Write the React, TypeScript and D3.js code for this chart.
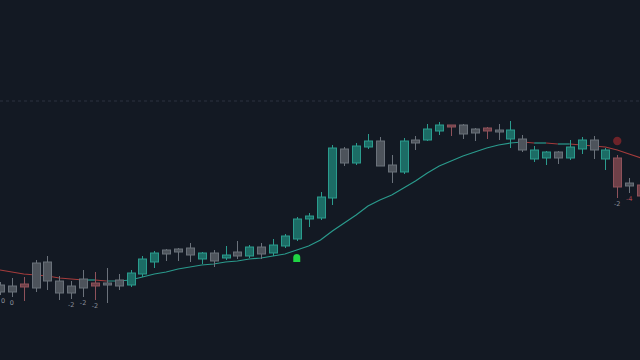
import React from "react";
import * as d3 from "d3";

const opens = [51.5,51.4,51.6,51.2,53.8,51.9,50.7,51.2,51.7,51.5,51.4,51.5,52.6,53.8,55.0,55.1,55.2,54.1,54.7,54.2,54.8,54.4,55.3,54.7,55.4,56.1,58.1,58.2,60.2,65.1,63.7,65.3,65.9,63.5,62.8,65.7,66.0,66.9,67.5,67.5,67.1,67.2,66.8,66.1,66.1,64.1,64.2,64.8,64.2,65.1,66.0,64.1,64.2,61.7,61.5];
const closes = [50.8,50.8,51.3,53.7,51.9,50.7,51.4,52.1,51.4,51.7,52.0,52.7,54.1,54.7,54.6,54.8,54.5,54.7,53.9,54.5,54.4,55.3,54.6,55.5,56.4,58.1,58.4,60.3,65.2,63.7,65.4,65.9,63.4,62.8,65.9,66.0,67.1,67.5,67.3,66.6,66.7,66.9,67.0,67.0,65.0,65.0,64.8,64.2,65.3,66.0,65.0,65.0,61.3,61.4,60.4];
const highs = [51.8,52.2,52.3,54.0,54.4,52.4,51.9,53.0,52.8,53.2,52.6,53.0,54.4,54.9,55.1,55.2,55.7,54.8,55.0,55.4,55.9,55.5,55.7,56.1,56.6,58.3,58.7,60.8,65.5,65.3,65.7,66.6,66.3,64.5,66.2,66.4,67.6,67.8,67.5,67.6,67.2,67.3,67.6,67.9,66.5,65.4,64.9,64.9,66.0,66.3,66.4,65.2,64.5,62.2,61.8];
const lows = [50.5,50.3,49.9,50.8,51.0,50.0,50.1,50.3,50.0,49.7,51.0,51.3,52.3,53.2,53.9,53.9,53.8,53.6,53.3,54.0,54.1,54.2,54.1,54.4,55.2,55.9,57.3,58.0,59.5,63.4,63.5,65.1,63.4,61.7,62.6,65.0,65.9,66.5,66.4,66.1,65.9,66.1,66.0,65.2,64.8,63.8,63.5,63.6,64.0,64.6,64.1,63.0,60.2,60.7,60.2];
const tones = ["g","g","r","g","g","g","g","g","r","g","g","t","t","t","g","g","g","t","g","t","g","t","g","t","t","t","t","t","t","g","t","t","g","g","t","g","t","t","r","g","g","r","g","t","g","t","t","g","t","t","g","t","r","g","r"];
const maValues = [53.0,52.8,52.6,52.5,52.4,52.2,52.1,52.0,52.0,51.9,51.9,52.0,52.3,52.6,52.8,53.1,53.3,53.5,53.6,53.8,53.9,54.1,54.2,54.4,54.6,55.0,55.4,56.0,56.9,57.7,58.5,59.4,60.0,60.5,61.2,61.9,62.7,63.4,63.9,64.4,64.8,65.2,65.5,65.7,65.8,65.7,65.7,65.6,65.6,65.5,65.4,65.3,65.0,64.6,64.2];
const labelIdx = [0,1,6,7,8,52,53];
const labelText = ["0","0","-2","-2","-2","-2","-4"];
const labelTone = ["g","g","g","g","g","g","r"];
const levelPrice = 69.9;
const buySignal = { index: 25, price: 54.2 };
const sellSignal = { index: 52, price: 65.9 };

const W = 640, H = 360;
const FILL: Record<string,string> = { t: "#1c6c65", g: "#4d535b", r: "#6e4048" };
const STROKE: Record<string,string> = { t: "#2b9c8e", g: "#6b727b", r: "#8f525b" };

export default function App() {
  const n = opens.length;
  const x = d3.scaleLinear().domain([0, n - 1]).range([0, 641]);
  const y = d3.scaleLinear().domain([44, 80]).range([H, 0]);
  const bw = 8;

  const segs: { pts: [number, number][]; c: string }[] = [];
  for (let i = 0; i < n - 1; i++) {
    const up = maValues[i + 1] >= maValues[i];
    const c = up ? "#2a9a8c" : "#a53c3c";
    const last = segs[segs.length - 1];
    const p1: [number, number] = [x(i + 1), y(maValues[i + 1])];
    if (last && last.c === c) {
      last.pts.push(p1);
    } else {
      segs.push({ pts: [[x(i), y(maValues[i])], p1], c });
    }
  }
  const lineGen = d3.line();

  const bx = x(buySignal.index), by = y(buySignal.price);
  return (
    <svg width={W} height={H} style={{ position: "fixed", left: 0, top: 0, background: "#131923" }}>
      <rect width={W} height={H} fill="#131923" />
      <line x1={0} x2={W} y1={y(levelPrice)} y2={y(levelPrice)} stroke="#2c3341" strokeDasharray="3,3" strokeWidth={1} />
      {segs.map((s, i) => (
        <path key={"m" + i} d={lineGen(s.pts) as string} fill="none" stroke={s.c} strokeWidth={1.2} />
      ))}
      {opens.map((o, i) => {
        const c = closes[i];
        const top = y(Math.max(o, c));
        const bot = y(Math.min(o, c));
        const cx = Math.round(x(i)) + 0.5;
        return (
          <g key={i}>
            <line x1={cx} x2={cx} y1={y(highs[i])} y2={y(lows[i])} stroke={STROKE[tones[i]]} strokeWidth={1} />
            <rect x={cx - bw / 2} y={top} width={bw} height={Math.max(1.5, bot - top)} fill={FILL[tones[i]]} stroke={STROKE[tones[i]]} strokeWidth={1} />
          </g>
        );
      })}
      {labelIdx.map((k, j) => (
        <text key={"l" + j} x={Math.max(3, x(k))} y={y(lows[k]) + 8} fontSize={6.5} fontFamily="DejaVu Sans, sans-serif" textAnchor="middle" fill={labelTone[j] === "r" ? "#a54650" : "#8b919b"}>
          {labelText[j]}
        </text>
      ))}
      <path d={`M${bx - 3.5},${by + 4} L${bx - 3.5},${by - 0.5} Q${bx - 3.5},${by - 4} ${bx},${by - 4} Q${bx + 3.5},${by - 4} ${bx + 3.5},${by - 0.5} L${bx + 3.5},${by + 4} Z`} fill="#1fd444" />
      <circle cx={x(sellSignal.index)} cy={y(sellSignal.price)} r={4.2} fill="#6d2329" />
    </svg>
  );
}
